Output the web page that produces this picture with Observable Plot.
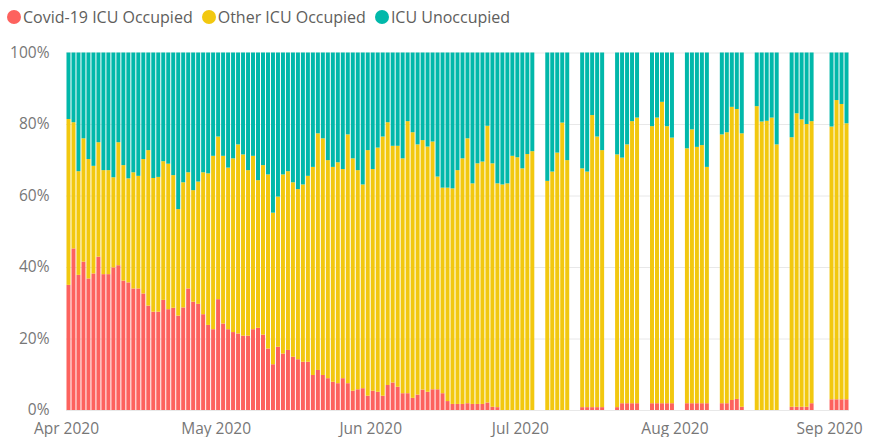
<!DOCTYPE html>
<html>
<head>
<meta charset="utf-8">
<script src="https://cdn.jsdelivr.net/npm/d3@7"></script>
<script src="https://cdn.jsdelivr.net/npm/@observablehq/plot@0.6"></script>
<style>
  body { margin: 0; background: #fff; font-family: "Segoe UI", "Open Sans", sans-serif; }
  #legend { height: 34px; display: flex; align-items: center; padding-left: 7px; font-size: 16px; color: #605e5c; white-space: nowrap; }
  .item { display: flex; align-items: center; margin-right: 9px; }
  .dot { width: 14px; height: 14px; border-radius: 50%; margin-right: 2px; flex: none; }
</style>
</head>
<body>
<div id="legend"></div>
<div id="chart"></div>
<script>
// ICU bed occupancy, share of beds per day (2020). Daily to 3 July, weekdays after.
const days = [
  "04-01","04-02","04-03","04-04","04-05","04-06","04-07","04-08","04-09","04-10",
  "04-11","04-12","04-13","04-14","04-15","04-16","04-17","04-18","04-19","04-20",
  "04-21","04-22","04-23","04-24","04-25","04-26","04-27","04-28","04-29","04-30",
  "05-01","05-02","05-03","05-04","05-05","05-06","05-07","05-08","05-09","05-10",
  "05-11","05-12","05-13","05-14","05-15","05-16","05-17","05-18","05-19","05-20",
  "05-21","05-22","05-23","05-24","05-25","05-26","05-27","05-28","05-29","05-30","05-31",
  "06-01","06-02","06-03","06-04","06-05","06-06","06-07","06-08","06-09","06-10",
  "06-11","06-12","06-13","06-14","06-15","06-16","06-17","06-18","06-19","06-20",
  "06-21","06-22","06-23","06-24","06-25","06-26","06-27","06-28","06-29","06-30",
  "07-01","07-02","07-03",
  "07-06","07-07","07-08","07-09","07-10",
  "07-13","07-14","07-15","07-16","07-17",
  "07-20","07-21","07-22","07-23","07-24",
  "07-27","07-28","07-29","07-30","07-31",
  "08-03","08-04","08-05","08-06","08-07",
  "08-10","08-11","08-12","08-13","08-14",
  "08-17","08-18","08-19","08-20","08-21",
  "08-24","08-25","08-26","08-27","08-28",
  "09-01","09-02","09-03","09-04"
];

// Percent of ICU beds per day, one array per series
const covid = [
  35.0,45.2,37.8,41.5,36.8,38.2,42.9,38.0,38.0,39.9,
  40.5,36.2,35.7,34.0,34.0,32.6,29.2,27.5,27.5,30.8,
  28.2,28.6,26.4,28.7,34.0,30.3,29.7,26.8,23.8,22.6,
  31.0,24.2,22.6,21.8,21.4,20.8,20.8,22.6,23.0,21.1,
  17.2,12.8,17.7,15.8,16.8,14.9,14.2,13.5,13.5,9.8,
  11.2,9.8,8.9,7.9,7.5,8.9,7.5,5.4,5.8,6.1,4.0,
  5.4,5.1,4.0,7.0,7.7,6.5,4.7,4.7,3.4,4.3,
  5.7,5.1,5.8,5.8,4.7,2.5,1.7,1.7,1.7,1.9,
  1.7,1.7,1.7,2.1,0.9,0.8,0,0,0,0,
  0,0,0,
  0,0,0,0,0,
  0.8,0.8,0.8,0.8,0.8,
  0.8,1.9,1.9,1.9,1.9,
  1.9,1.9,1.9,1.9,1.9,
  1.9,1.9,1.9,1.9,1.9,
  1.9,1.9,2.8,3.1,0.9,
  0,0,0,0,0,
  0.9,0.9,0.9,0.9,1.9,
  3.0,3.0,3.0,3.0
];

const other = [
  46.4,35.3,29.0,34.5,33.4,30.1,32.0,29.1,29.1,25.2,
  34.4,32.3,29.1,32.5,31.5,37.6,43.5,37.4,37.7,38.8,
  40.7,37.1,29.8,35.0,32.5,31.2,34.2,39.7,42.4,48.5,
  45.5,46.9,45.2,48.6,52.9,50.7,46.3,48.5,41.3,47.4,
  48.7,42.4,42.0,50.1,50.0,48.8,47.6,49.6,52.0,58.2,
  66.2,66.2,61.0,60.1,61.8,58.5,69.6,65.0,61.3,57.0,68.7,
  62.0,68.3,72.5,73.5,66.2,67.4,65.7,76.1,74.3,70.0,
  69.8,68.6,69.3,59.5,57.5,59.7,60.3,65.4,68.7,74.1,
  61.7,67.3,67.8,77.4,68.1,62.6,63.1,63.4,71.1,70.7,
  67.6,71.6,72.4,
  64.1,66.7,72.0,80.4,69.9,
  66.8,65.9,81.7,75.7,71.9,
  70.7,68.7,72.4,78.9,79.9,
  77.5,79.9,84.3,77.5,74.3,
  71.3,76.6,71.7,72.2,66.1,
  75.2,75.8,82.0,81.1,76.5,
  85.0,80.7,80.9,81.8,74.3,
  75.4,82.1,80.4,79.1,78.9,
  76.3,83.7,82.6,77.2
];

const unoccupied = [
  18.6,19.5,33.2,24.0,29.8,31.7,25.1,32.9,32.9,34.9,
  25.1,31.5,35.2,33.5,34.5,29.8,27.3,35.1,34.8,30.4,
  31.1,34.3,43.8,36.3,33.5,38.5,36.1,33.5,33.8,28.9,
  23.5,28.9,32.2,29.6,25.7,28.5,32.9,28.9,35.7,31.5,
  34.1,44.8,40.3,34.1,33.2,36.3,38.2,36.9,34.5,32.0,
  22.6,24.0,30.1,32.0,30.7,32.6,22.9,29.6,32.9,36.9,27.3,
  32.6,26.6,23.5,19.5,26.1,26.1,29.6,19.2,22.3,25.7,
  24.5,26.3,24.9,34.7,37.8,37.8,38.0,32.9,29.6,24.0,
  36.6,31.0,30.5,20.5,31.0,36.6,36.9,36.6,28.9,29.3,
  32.4,28.4,27.6,
  35.9,33.3,28.0,19.6,30.1,
  32.4,33.3,17.5,23.5,27.3,
  28.5,29.4,25.7,19.2,18.2,
  20.6,18.2,13.8,20.6,23.8,
  26.8,21.5,26.4,25.9,32.0,
  22.9,22.3,15.2,15.8,22.6,
  15.0,19.3,19.1,18.2,25.7,
  23.7,17.0,18.7,20.0,19.2,
  20.7,13.3,14.4,19.8
];

const seriesNames = ["Covid-19 ICU Occupied", "Other ICU Occupied", "ICU Unoccupied"];
const seriesColors = ["#FD625E", "#F2C80F", "#01B8AA"];
const monthTicks = ["2020-04-01", "2020-05-01", "2020-06-01", "2020-07-01", "2020-08-01", "2020-09-01"];
const percentTicks = [0, 0.2, 0.4, 0.6, 0.8, 1];

const parse = d3.utcParse("%Y-%m-%d");
const seriesValues = [covid, other, unoccupied];

// Long-form rows: one per series per day, each spanning a whole day on the time axis
const rows = seriesNames.flatMap((name, k) =>
  days.map((d, i) => {
    const date = parse(`2020-${d}`);
    return {date, next: d3.utcDay.offset(date, 1), series: name, value: seriesValues[k][i]};
  })
);

// Legend with round swatches
const legend = d3.select("#legend");
seriesNames.forEach((name, k) => {
  const item = legend.append("div").attr("class", "item");
  item.append("div").attr("class", "dot").style("background", seriesColors[k]);
  item.append("span").text(name);
});

const chart = Plot.plot({
  width: 870,
  height: 403,
  marginLeft: 66,
  marginRight: 21,
  marginTop: 18.5,
  marginBottom: 27,
  style: {
    fontFamily: "'Segoe UI', 'Open Sans', sans-serif",
    fontSize: "15.5px",
    color: "#777",
    background: "#fff",
    overflow: "visible"
  },
  x: {
    type: "utc",
    domain: [parse("2020-04-01"), parse("2020-09-05")],
    ticks: monthTicks.map(parse),
    tickFormat: d3.utcFormat("%b %Y"),
    tickSize: 0,
    tickPadding: 12,
    label: null
  },
  y: {
    domain: [0, 1],
    ticks: percentTicks,
    tickFormat: d3.format(".0%"),
    tickSize: 0,
    tickPadding: 17,
    label: null
  },
  color: {domain: seriesNames, range: seriesColors},
  marks: [
    Plot.ruleY(percentTicks, {stroke: "#e8e8e8"}),
    Plot.rect(rows, Plot.stackY({
      x1: "date",
      x2: "next",
      y: "value",
      z: "series",
      fill: "series",
      order: seriesNames,
      offset: "normalize",
      insetLeft: 0.5,
      insetRight: 0.5
    }))
  ]
});

document.getElementById("chart").append(chart);
</script>
</body>
</html>
